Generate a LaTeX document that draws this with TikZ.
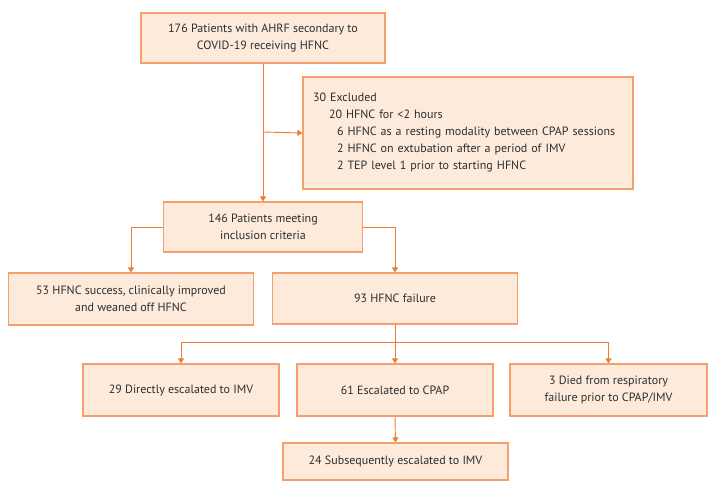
\documentclass[tikz,border=0pt]{standalone}
\usepackage{fontspec}
\setmainfont{PT Sans}
\usetikzlibrary{arrows.meta}
\definecolor{boxfill}{HTML}{FDEADB}
\definecolor{boxline}{HTML}{F5A06A}
\definecolor{arrcol}{HTML}{F07A32}
\definecolor{txt}{HTML}{2E2E2E}
\begin{document}
\begin{tikzpicture}[x=1pt,y=-1pt,
  fbox/.style={draw=boxline, fill=boxfill, line width=1.1pt, text=txt, align=center,
    inner sep=0pt, font=\fontsize{12}{17}\selectfont},
  conn/.style={draw=arrcol, line width=0.9pt},
  arr/.style={conn, -{Triangle[length=5pt,width=6pt]}}]
\useasboundingbox (0,0) rectangle (720,489);
\node[fbox, minimum width=244pt, minimum height=50pt] (b1) at (263,38) {176 Patients with AHRF secondary to\\COVID-19 receiving HFNC};
\node[fbox, minimum width=330pt, minimum height=112pt, align=left, text width=310pt] (ex) at (468,133)
 {30 Excluded\\
  \hspace*{16pt}20 HFNC for <2 hours\\
  \hspace*{24pt}6 HFNC as a resting modality between CPAP sessions\\
  \hspace*{24pt}2 HFNC on extubation after a period of IMV\\
  \hspace*{24pt}2 TEP level 1 prior to starting HFNC};
\node[fbox, minimum width=199pt, minimum height=50pt] (b146) at (263,227) {146 Patients meeting\\inclusion criteria};
\node[fbox, minimum width=245pt, minimum height=52pt] (b53) at (131,299) {53 HFNC success, clinically improved\\and weaned off HFNC};
\node[fbox, minimum width=245pt, minimum height=51pt] (b93) at (395,298.5) {93 HFNC failure};
\node[fbox, minimum width=196pt, minimum height=52pt] (b29) at (181,390) {29 Directly escalated to IMV};
\node[fbox, minimum width=196pt, minimum height=52pt] (b61) at (395,390) {61 Escalated to CPAP};
\node[fbox, minimum width=197pt, minimum height=52pt] (b3) at (608.5,390) {3 Died from respiratory\\failure prior to CPAP/IMV};
\node[fbox, minimum width=225pt, minimum height=37pt] (b24) at (395.5,461.5) {24 Subsequently escalated to IMV};
\coordinate (j1) at (263,132);
\coordinate (j2) at (395,342);
\draw[arr] (b1.south) -- (b146.north);
\draw[arr] (j1) -- (ex.west);
\draw[arr] (b146.west) -| (b53.north);
\draw[arr] (b146.east) -| (b93.north);
\draw[arr] (b93.south) -- (b61.north);
\draw[arr] (j2) -| (b29.north);
\draw[arr] (j2) -| (b3.north);
\draw[arr] (b61.south) -- (b24.north);
\end{tikzpicture}
\end{document}
